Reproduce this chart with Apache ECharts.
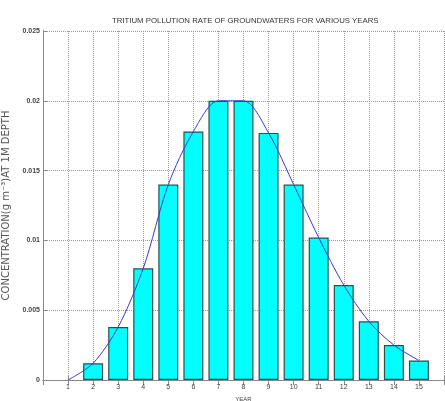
<!DOCTYPE html>
<html>
<head>
<meta charset="utf-8">
<script src="https://cdn.jsdelivr.net/npm/echarts@6/dist/echarts.min.js"></script>
<style>html,body{margin:0;padding:0;background:#fff}#c{width:445px;height:401px}</style>
</head>
<body>
<div id="c"></div>
<script>
const years = [1,2,3,4,5,6,7,8,9,10,11,12,13,14,15];
const concentration = [0,0.0012,0.0038,0.0080,0.0140,0.0178,0.0200,0.0200,0.0177,0.0140,0.0102,0.0068,0.0042,0.0025,0.0014];
const yTicks = [0,0.005,0.01,0.015,0.02,0.025];

const pts = years.map((y,i)=>[y, concentration[i]]);
const barPts = pts.filter(p=>p[1]>0);
const chart = echarts.init(document.getElementById('c'));
const fam = 'Liberation Sans, Arial, sans-serif';
chart.setOption({
  animation:false,
  backgroundColor:'#fff',
  title:{text:'TRITIUM POLLUTION RATE OF GROUNDWATERS FOR VARIOUS YEARS',left:107,top:12,
    textStyle:{fontSize:7.8,fontWeight:'normal',color:'#333',fontFamily:fam}},
  grid:{left:43,right:1,top:31,bottom:21,containLabel:false,outerBoundsMode:'none'},
  xAxis:[{
    type:'value',min:0,max:16,interval:1,
    name:'YEAR',nameLocation:'middle',nameGap:11,
    nameTextStyle:{fontSize:6,color:'#444',fontFamily:fam},
    axisLine:{show:true,lineStyle:{color:'#888',width:1}},
    axisTick:{show:true,inside:true,length:4,lineStyle:{color:'#888'}},
    axisLabel:{fontSize:7,color:'#444',margin:4,fontFamily:fam,
      formatter:v=>(v>=1&&v<=15)?String(v):''},
    splitLine:{show:true,lineStyle:{color:'#999',type:'dotted',width:1}}
  },{
    type:'value',min:0,max:16,interval:1,position:'top',
    axisLine:{show:true,lineStyle:{color:'#888',width:1}},
    axisTick:{show:true,inside:true,length:5,lineStyle:{color:'#888'}},
    axisLabel:{show:false},splitLine:{show:false}
  }],
  yAxis:[{
    type:'value',min:0,max:0.025,interval:0.005,
    name:'CONCENTRATION(g m\u207B\u00B3)AT 1M DEPTH',nameLocation:'middle',nameGap:27,
    nameTextStyle:{fontSize:10,color:'#555',fontFamily:'DejaVu Sans, sans-serif',fontWeight:'normal'},
    axisLine:{show:true,lineStyle:{color:'#888',width:1}},
    axisTick:{show:true,inside:true,length:4,lineStyle:{color:'#888'}},
    axisLabel:{fontSize:7,color:'#444',margin:3,fontFamily:fam,fontWeight:'bold',
      formatter:v=>{const t=yTicks.find(x=>Math.abs(x-v)<1e-9);return t===undefined?'':String(+t.toFixed(3));}},
    splitLine:{show:true,lineStyle:{color:'#999',type:'dotted',width:1}}
  },{
    type:'value',min:0,max:0.025,interval:0.005,position:'right',
    axisLine:{show:true,lineStyle:{color:'#888',width:1}},
    axisTick:{show:false},axisLabel:{show:false},splitLine:{show:false}
  }],
  series:[{
    type:'bar',data:barPts,barWidth:20,
    itemStyle:{color:'#00ffff',borderColor:'#2a5050',borderWidth:1.2}
  },{
    type:'line',data:pts,smooth:0.3,symbol:'none',
    lineStyle:{color:'#3a3ad0',width:1},z:5
  }]
});
</script>
</body>
</html>
